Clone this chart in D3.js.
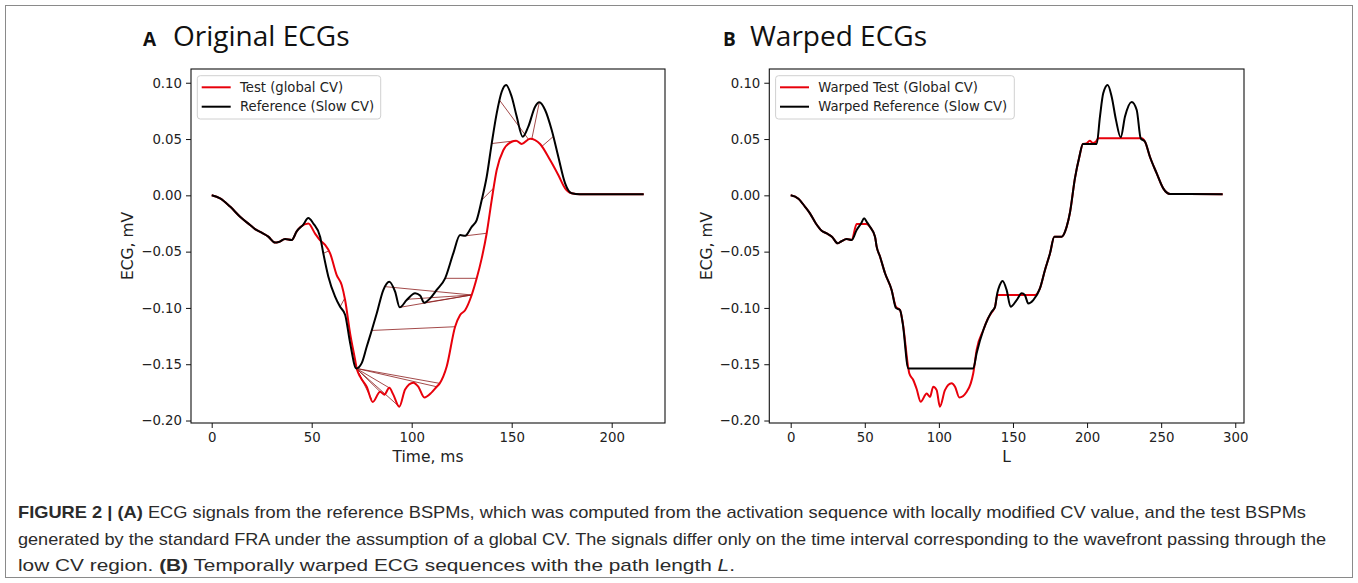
<!DOCTYPE html>
<html>
<head>
<meta charset="utf-8">
<script src="https://cdn.jsdelivr.net/npm/d3@7"></script>
<style>
  body { margin: 0; background: #fff; }
  svg { display: block; }
</style>
</head>
<body>
<div id="figure"></div>
<script>
// ECG signals: [time (ms) or path index L, value (mV)]
var refPoints = [
  [0,0],[4.2,-0.0027],[9.2,-0.010],[14.2,-0.019],[19.2,-0.0264],[21.7,-0.030],[25,-0.0332],
  [28.3,-0.0367],[31.7,-0.042],[33.5,-0.0415],[36.7,-0.0388],[40,-0.0397],[42.5,-0.032],
  [45.8,-0.026],[48.3,-0.0202],[50.8,-0.025],[54.2,-0.0367],[55.8,-0.0515],[58.3,-0.072],
  [61.7,-0.090],[64.2,-0.099],[66.7,-0.106],[69.2,-0.131],[72.3,-0.1537],[75,-0.149],
  [77.5,-0.1345],[80,-0.120],[82.5,-0.105],[85.8,-0.0841],[88.8,-0.0767],[91.7,-0.0856],
  [94,-0.0995],[97.5,-0.093],[101.7,-0.087],[104.2,-0.089],[106.3,-0.0954],[109.2,-0.0915],
  [112.5,-0.084],[116.7,-0.0737],[120.8,-0.0515],[124.2,-0.0353],[126.7,-0.036],[130,-0.028],
  [132.5,-0.022],[135,-0.0042],[137.5,0.0165],[140,0.046],[142.5,0.0728],[145,0.092],
  [147.2,0.098],[150,0.0876],[152.5,0.070],[155.5,0.052],[158.3,0.061],[161.7,0.0787],
  [163.8,0.0826],[166.7,0.0758],[170,0.058],[173.3,0.0343],[176.7,0.0107],[180,0.0018],
  [184,0.001],[216,0.001]
];

var testPoints = [
  [0,0],[4.2,-0.0027],[9.2,-0.010],[14.2,-0.019],[19.2,-0.0264],[21.7,-0.030],[25,-0.0332],
  [28.3,-0.0367],[31.7,-0.042],[33.5,-0.0415],[36.7,-0.0388],[40,-0.0397],[42.5,-0.032],
  [44.5,-0.028],[48.3,-0.025],[51.7,-0.034],[54.2,-0.040],[56.7,-0.044],[59.2,-0.0515],
  [62.5,-0.0708],[65,-0.0797],[66.7,-0.093],[69.2,-0.1226],[71.7,-0.146],[72.5,-0.1537],
  [74.2,-0.161],[77.5,-0.170],[80.5,-0.1835],[84.2,-0.1744],[86.3,-0.177],[88.8,-0.171],
  [90.8,-0.177],[93.8,-0.1877],[96.7,-0.1725],[100.8,-0.1664],[103.3,-0.170],[106.3,-0.1795],
  [110,-0.175],[112.5,-0.170],[114,-0.167],[117.5,-0.152],[121.7,-0.1167],[124.2,-0.1063],
  [126.7,-0.102],[130,-0.0885],[132.5,-0.0737],[135,-0.056],[137.5,-0.0337],[140,-0.0042],
  [142.5,0.0225],[145.8,0.040],[150,0.0476],[152.2,0.0485],[155,0.0456],[159.2,0.0503],
  [164.2,0.0456],[169.2,0.0313],[173.3,0.018],[176.7,0.0062],[180,0.0018],[184,0.001],[216,0.001]
];

// warping path connections: [reference time, test time]
var warpLinks = [
  [55.8,58.5],[64.2,66.5],[72.3,76],[72.3,80],[72.3,84.2],[72.3,88.8],[72.3,93.8],
  [72.3,112.5],[72.3,114],[80,121.7],[87,130],[94,130],[98,130],[106.3,130],
  [116.7,132.5],[126.7,137.5],[135,141],[140,152.2],[144,158.5],[163.8,160],[170.8,165]
];

var warpedRefPoints = [
  [0,0],[5.2,-0.003],[9.6,-0.010],[13,-0.016],[17,-0.025],[20.9,-0.0314],[24.3,-0.0338],
  [28,-0.037],[31.7,-0.0426],[34,-0.041],[37.8,-0.0388],[41.2,-0.0397],[44.5,-0.0308],
  [47.5,-0.025],[49.5,-0.0204],[51.5,-0.024],[53.5,-0.028],[56.9,-0.0367],[58,-0.0456],
  [60.3,-0.0545],[63.6,-0.069],[68.1,-0.084],[71,-0.100],[73.8,-0.102],[75.6,-0.1137],
  [79.4,-0.1537],[123.2,-0.1537],[125.5,-0.140],[130,-0.1196],[133.3,-0.109],[135.6,-0.1034],
  [137.9,-0.099],[139.4,-0.087],[141,-0.080],[143,-0.076],[145.7,-0.084],[148.4,-0.099],
  [152.5,-0.093],[155.9,-0.087],[158,-0.0885],[160.3,-0.096],[163.7,-0.093],[168.2,-0.0826],
  [171.6,-0.0663],[175,-0.0515],[177.9,-0.0367],[182.9,-0.0367],[186.2,-0.028],[188.5,-0.015],
  [191.8,0.015],[194.8,0.0343],[197.2,0.0456],[206.5,0.0456],[208.7,0.070],[210.9,0.0906],
  [213.9,0.098],[216.6,0.0876],[219.5,0.067],[222.7,0.0515],[225.6,0.070],[230.1,0.083],
  [233.5,0.0758],[236.2,0.0506],[239.1,0.0476],[242.4,0.0343],[247,0.0195],[251.4,0.0062],
  [256,0.0012],[291.5,0.001]
];

var warpedTestPoints = [
  [0,0],[5.2,-0.003],[9.6,-0.010],[13,-0.016],[17,-0.025],[20.9,-0.0314],[24.3,-0.0338],
  [28,-0.037],[31.7,-0.0426],[34,-0.041],[37.8,-0.0388],[41.2,-0.0397],[44.5,-0.0255],
  [51,-0.0255],[53.5,-0.028],[56.9,-0.0367],[58,-0.0456],[60.3,-0.0545],[63.6,-0.069],
  [68.1,-0.084],[71,-0.099],[73.8,-0.102],[75.6,-0.113],[79.4,-0.1537],[80,-0.158],
  [82.7,-0.164],[85,-0.172],[87.7,-0.1833],[91.8,-0.176],[94,-0.179],[96.2,-0.170],
  [98.5,-0.173],[100.7,-0.1877],[104.1,-0.173],[108.6,-0.167],[110.9,-0.170],[113.8,-0.1795],
  [118.8,-0.1744],[121.5,-0.167],[123.2,-0.158],[125.5,-0.137],[130,-0.1196],[133.3,-0.109],
  [135.6,-0.104],[137.9,-0.099],[139.4,-0.0885],[164.8,-0.0885],[168.2,-0.0826],[171.6,-0.0663],
  [175,-0.0515],[177.9,-0.0367],[182.9,-0.0367],[186.2,-0.028],[188.5,-0.015],[191.8,0.015],
  [194.8,0.0343],[197.2,0.0456],[199.5,0.046],[201.8,0.0485],[203.9,0.0465],[205.8,0.0475],
  [207.6,0.0506],[236.8,0.0506],[239.1,0.0476],[242.4,0.0343],[247,0.0195],[251.4,0.0062],
  [256,0.0012],[291.5,0.001]
];

var yTicks = [0.10, 0.05, 0.00, -0.05, -0.10, -0.15, -0.20];
var xTicksA = [0, 50, 100, 150, 200];
var xTicksB = [0, 50, 100, 150, 200, 250, 300];
var legendA = ['Test (global CV)', 'Reference (Slow CV)'];
var legendB = ['Warped Test (Global CV)', 'Warped Reference (Slow CV)'];
var captionLines = [
  [['FIGURE 2 | (A)', true], [' ECG signals from the reference BSPMs, which was computed from the activation sequence with locally modified CV value, and the test BSPMs', false]],
  [['generated by the standard FRA under the assumption of a global CV. The signals differ only on the time interval corresponding to the wavefront passing through the', false]],
  [['low CV region. ', false], ['(B)', true], [' Temporally warped ECG sequences with the path length ', false], ['L', false, true], ['.', false]]
];

var width = 1358, height = 583;
var tickFont = 'DejaVu Sans, sans-serif';

var svg = d3.select('#figure').append('svg')
  .attr('width', width)
  .attr('height', height);

svg.append('rect')
  .attr('x', 5.5).attr('y', 5.5)
  .attr('width', 1347).attr('height', 572)
  .attr('fill', 'none')
  .attr('stroke', '#8a8a8a')
  .attr('stroke-width', 1);

// look up a curve value at time t (for the warp connector ends)
var valueAt = function(points, t) {
  var i = d3.bisector(function(d) { return d[0]; }).left(points, t);
  if (i <= 0) return points[0][1];
  if (i >= points.length) return points[points.length - 1][1];
  var a = points[i - 1], b = points[i];
  return a[1] + (b[1] - a[1]) * (t - a[0]) / (b[0] - a[0]);
};

var drawPanel = function(p) {
  var x = d3.scaleLinear().domain(p.xDomain).range([p.left, p.right]);
  var y = d3.scaleLinear().domain([-0.2022, 0.1122]).range([423, 69]);

  var g = svg.append('g');

  // title
  g.append('text')
    .attr('x', p.letterX).attr('y', 46)
    .attr('font-family', 'Open Sans, sans-serif')
    .attr('font-weight', 'bold')
    .attr('font-size', 19)
    .attr('fill', '#111')
    .text(p.letter);
  g.append('text')
    .attr('x', p.titleX).attr('y', 46)
    .attr('font-family', 'Open Sans, sans-serif')
    .attr('font-size', 28)
    .attr('fill', '#111')
    .text(p.title);

  var line = d3.line()
    .x(function(d) { return x(d[0]); })
    .y(function(d) { return y(d[1]); })
    .curve(d3.curveMonotoneX);

  var plot = g.append('g');

  if (p.links) {
    plot.selectAll('line.link')
      .data(p.links)
      .enter()
      .append('line')
      .attr('class', 'link')
      .attr('x1', function(d) { return x(d[0]); })
      .attr('y1', function(d) { return y(valueAt(p.black, d[0])); })
      .attr('x2', function(d) { return x(d[1]); })
      .attr('y2', function(d) { return y(valueAt(p.red, d[1])); })
      .attr('stroke', '#8b1c1c')
      .attr('stroke-width', 0.8);
  }

  var series = p.redOnTop ? [[p.black, 'black'], [p.red, '#e8000b']] : [[p.red, '#e8000b'], [p.black, 'black']];
  series.forEach(function(s) {
    plot.append('path')
      .datum(s[0])
      .attr('fill', 'none')
      .attr('stroke', s[1])
      .attr('stroke-width', 2)
      .attr('stroke-linejoin', 'round')
      .attr('d', line);
  });

  // frame
  g.append('rect')
    .attr('x', p.left).attr('y', 69)
    .attr('width', p.right - p.left).attr('height', 354)
    .attr('fill', 'none')
    .attr('stroke', '#111')
    .attr('stroke-width', 1.1);

  var yAxis = g.append('g')
    .attr('transform', 'translate(' + p.left + ',0)')
    .call(d3.axisLeft(y).tickValues(yTicks).tickFormat(d3.format('.2f')).tickSize(5).tickPadding(4));
  var xAxis = g.append('g')
    .attr('transform', 'translate(0,423)')
    .call(d3.axisBottom(x).tickValues(p.xTicks).tickFormat(d3.format('d')).tickSize(5).tickPadding(5));

  [xAxis, yAxis].forEach(function(a) {
    a.select('.domain').remove();
    a.selectAll('line').attr('stroke', '#111');
    a.selectAll('text')
      .attr('font-family', tickFont)
      .attr('font-size', 13.3)
      .attr('fill', '#222');
  });

  g.append('text')
    .attr('x', (p.left + p.right) / 2).attr('y', 462)
    .attr('text-anchor', 'middle')
    .attr('font-family', tickFont)
    .attr('font-size', 15.5)
    .attr('fill', '#222')
    .text(p.xLabel);
  g.append('text')
    .attr('transform', 'translate(' + p.yLabelX + ',246) rotate(-90)')
    .attr('text-anchor', 'middle')
    .attr('font-family', tickFont)
    .attr('font-size', 15.5)
    .attr('fill', '#222')
    .text('ECG, mV');

  // legend
  var lg = g.append('g').attr('transform', 'translate(' + (p.left + 6.3) + ',75.7)');
  lg.append('rect')
    .attr('width', p.legendW).attr('height', 43.3)
    .attr('rx', 3)
    .attr('fill', 'white').attr('fill-opacity', 0.85)
    .attr('stroke', '#d0d0d0');
  var rows = lg.selectAll('g.row')
    .data(p.legend)
    .enter()
    .append('g')
    .attr('class', 'row')
    .attr('transform', function(d, i) { return 'translate(0,' + (11.6 + i * 19.4) + ')'; });
  rows.append('line')
    .attr('x1', 4.4).attr('x2', 33.4)
    .attr('stroke', function(d, i) { return i === 0 ? '#e8000b' : 'black'; })
    .attr('stroke-width', 2);
  rows.append('text')
    .attr('x', 42.7).attr('y', 4.7)
    .attr('font-family', tickFont)
    .attr('font-size', 13.2)
    .attr('fill', '#222')
    .text(function(d) { return d; });
};

drawPanel({
  letter: 'A', letterX: 143, title: 'Original ECGs', titleX: 173,
  left: 191, right: 665, xDomain: [-10.35, 226.65], xTicks: xTicksA,
  black: refPoints, red: testPoints, links: warpLinks,
  xLabel: 'Time, ms', yLabelX: 132.5, legend: legendA, legendW: 183.4
});

drawPanel({
  letter: 'B', letterX: 723, title: 'Warped ECGs', titleX: 750,
  left: 769.3, right: 1244, xDomain: [-14.44, 305.9], xTicks: xTicksB,
  black: warpedRefPoints, red: warpedTestPoints, links: null,
  xLabel: 'L', yLabelX: 711.5, legend: legendB, legendW: 238.7
});

// caption
var captionEnds = [1306, 1326, 735];
captionLines.forEach(function(parts, i) {
  var t = svg.append('text')
    .attr('x', 18).attr('y', 518 + i * 26.5)
    .attr('font-family', 'Liberation Sans Narrow, Liberation Sans, Arial, sans-serif')
    .attr('font-size', 17)
    .attr('fill', '#2b2b2b')
    .attr('textLength', captionEnds[i] - 18)
    .attr('lengthAdjust', 'spacingAndGlyphs');
  parts.forEach(function(part) {
    t.append('tspan')
      .attr('font-weight', part[1] ? 'bold' : 'normal')
      .attr('font-style', part[2] ? 'italic' : 'normal')
      .text(part[0]);
  });
});
</script>
</body>
</html>
